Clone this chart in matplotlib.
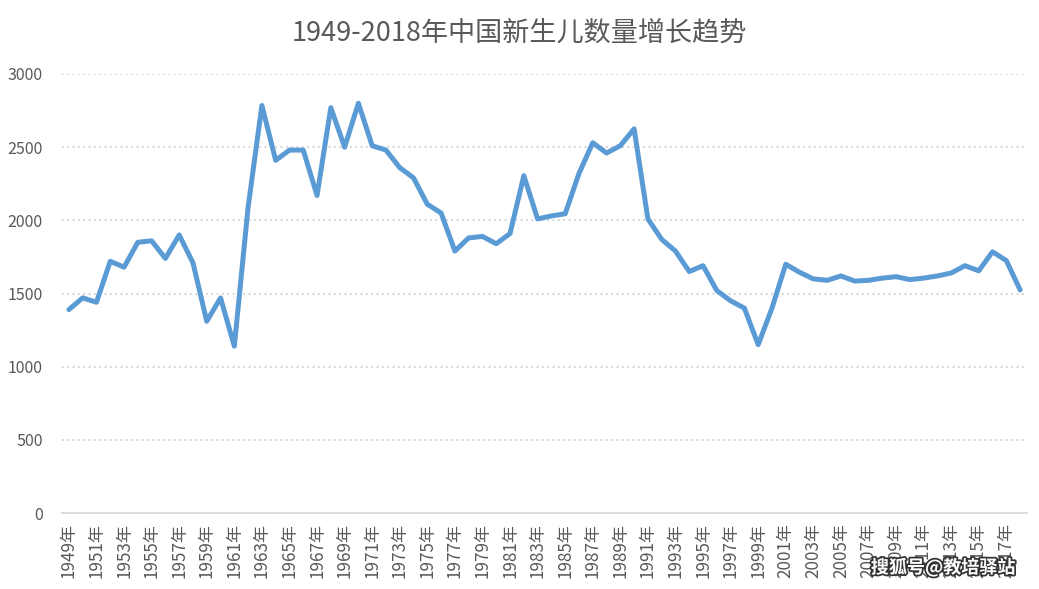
import matplotlib
matplotlib.use("Agg")
import matplotlib.pyplot as plt
import matplotlib.patheffects as pe

plt.rcParams['font.family'] = ['Noto Sans CJK SC', 'DejaVu Sans']

years = list(range(1949, 2019))
births = [1390, 1470, 1440, 1720, 1680, 1850, 1860, 1740, 1900, 1710,
          1310, 1470, 1140, 2090, 2785, 2410, 2480, 2480, 2170, 2770,
          2500, 2800, 2510, 2480, 2360, 2290, 2110, 2050, 1790, 1880,
          1890, 1840, 1910, 2305, 2010, 2030, 2045, 2320, 2530, 2460,
          2510, 2625, 2010, 1870, 1790, 1650, 1690, 1520, 1450, 1400,
          1150, 1400, 1700, 1645, 1600, 1590, 1620, 1585, 1590, 1605,
          1615, 1595, 1605, 1620, 1640, 1690, 1655, 1785, 1725, 1525]
labels = [f"{y}年" for y in years]
title = "1949-2018年中国新生儿数量增长趋势"
watermark = "搜狐号@教培驿站"

fig = plt.figure(figsize=(10.39, 5.89), dpi=100)
ax = fig.add_axes([62/1039, 1 - 513/589, (1027-62)/1039, (513-74)/589])

x = list(range(len(years)))
ax.plot(x, births, color='#5B9BD5', linewidth=3.6, solid_joinstyle='round', solid_capstyle='round', zorder=3)

ax.set_xlim(-0.5, len(years) - 0.5)
ax.set_ylim(0, 3000)
ax.set_yticks(range(0, 3001, 500))
ax.set_xticks(x[::2])
ax.set_xticklabels(labels[::2], rotation=90, fontsize=12.3, color='#595959')
ax.tick_params(axis='y', length=0, labelsize=11.5, labelcolor='#595959', pad=14)
ax.tick_params(axis='x', length=0, pad=7)

ax.grid(axis='y', linestyle=(0, (1, 2.2)), color='#C8C8C8', linewidth=1.2)
ax.set_axisbelow(True)
for s in ['left', 'right', 'top']:
    ax.spines[s].set_visible(False)
ax.spines['bottom'].set_color('#D9D9D9')
ax.spines['bottom'].set_linewidth(1.3)

fig.text(0.5, 1 - 33/589, title, ha='center', va='center', fontsize=19.5, color='#595959')

fig.text(1015/1039, 1 - 568/589, watermark, ha='right', va='center', fontsize=13,
         color='white', fontweight='bold',
         path_effects=[pe.withStroke(linewidth=2.5, foreground='#333333')])

fig.savefig('out.png', dpi=100)
